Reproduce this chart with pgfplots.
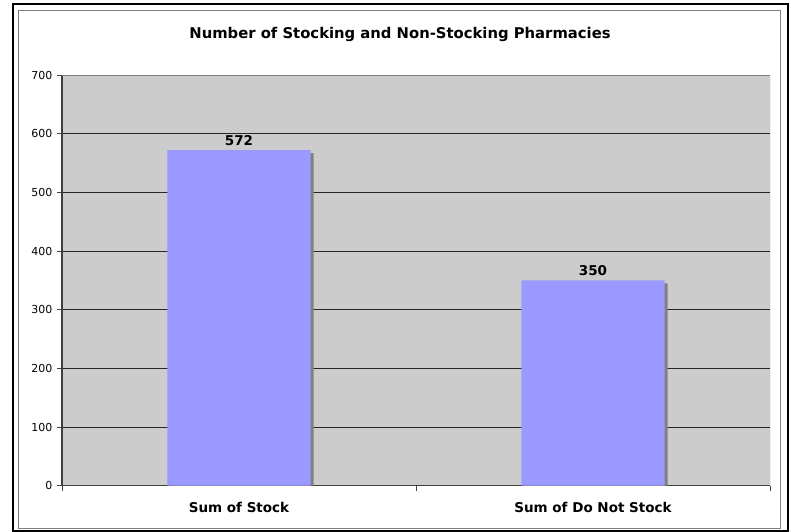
\documentclass[border=0pt]{standalone}
\usepackage{pgfplots}
\pgfplotsset{compat=1.18}
\usepackage{fontspec}
\setmainfont{DejaVu Sans}
\definecolor{plotbg}{RGB}{204,204,204}
\definecolor{barblue}{RGB}{153,153,255}
\definecolor{shadowgray}{RGB}{128,128,128}
\begin{document}
\begin{tikzpicture}
\useasboundingbox (0pt,0pt) rectangle (791pt,531pt);
\draw[black, line width=2pt] (12.8pt,0.5pt) rectangle (787.7pt,526.8pt);
\draw[shadowgray, line width=1pt] (18.8pt,3pt) rectangle (780.3pt,520pt);
\node[font=\fontsize{14.8}{17}\selectfont\bfseries] at (400pt,497pt) {Number of Stocking and Non-Stocking Pharmacies};
\begin{axis}[
  at={(62pt,45.3pt)}, anchor=south west,
  scale only axis, width=708pt, height=410.7pt,
  ybar, bar width=0.404,
  xmin=-0.5, xmax=1.5, ymin=0, ymax=700,
  axis x line*=bottom, axis y line*=left,
  axis line style={draw=black!75, line width=1pt},
  axis background/.style={fill=plotbg},
  xtick={0,1}, xticklabels={Sum of Stock, Sum of Do Not Stock},
  major x tick style={draw=none},
  minor xtick={-0.5,0.5,1.5},
  minor x tick style={draw=black!75, line width=0.8pt},
  minor tick length=5pt,
  xticklabel style={font=\fontsize{13.5}{16}\selectfont\bfseries, yshift=-8pt},
  ytick={0,100,...,700},
  tick align=outside,
  major tick length=5pt,
  y tick style={draw=black!75, line width=0.8pt},
  yticklabel style={font=\fontsize{11}{13}\selectfont, xshift=-1pt},
  /pgf/number format/assume math mode=true,
  ymajorgrids, grid style={draw=black!85, line width=0.8pt},
  clip=true,
]
\addplot[fill=shadowgray, draw=none, bar shift=3pt] coordinates {(0,566.9) (1,344.9)};
\addplot[fill=barblue, draw=none, bar shift=0pt,
  nodes near coords, nodes near coords style={font=\fontsize{13.5}{16}\selectfont\bfseries, black, yshift=1pt}]
  coordinates {(0,572) (1,350)};
\draw[shadowgray, line width=1pt] (rel axis cs:0,1) -- (rel axis cs:1,1) -- (rel axis cs:1,0);
\end{axis}
\end{tikzpicture}
\end{document}
